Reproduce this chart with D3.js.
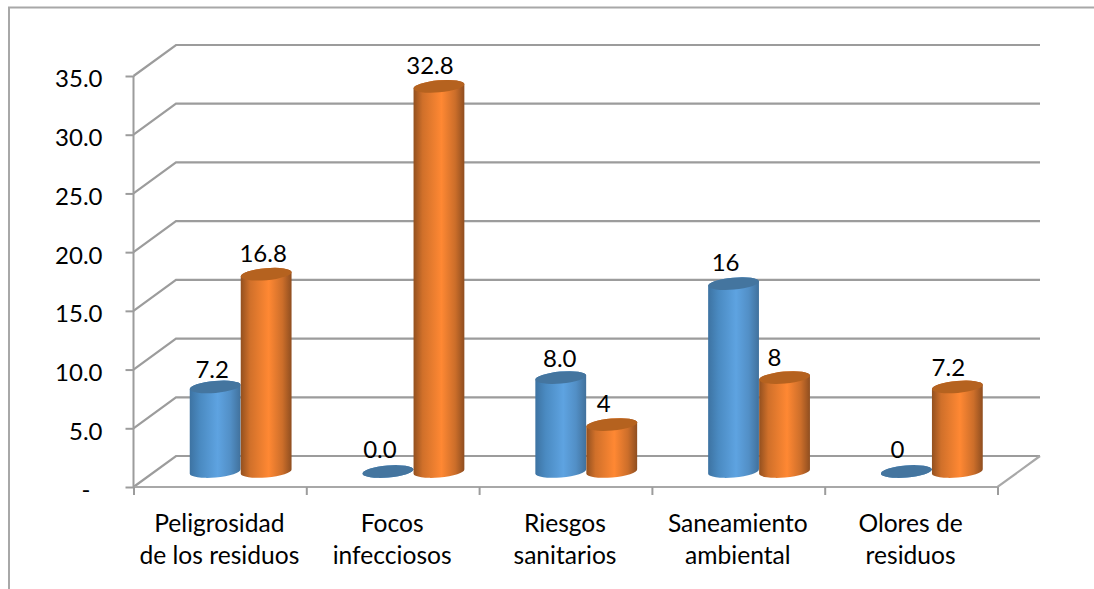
<!DOCTYPE html>
<html>
<head>
<meta charset="utf-8">
<script src="https://cdn.jsdelivr.net/npm/d3@7"></script>
<style>
  html, body { margin: 0; background: #fff; }
  svg { display: block; }
  text { font-family: Lato, "Open Sans", sans-serif; fill: #000; }
</style>
</head>
<body>
<svg id="chart" width="1094" height="589"></svg>
<script>
// Survey results by waste-related concern, two series of 3D-style cylinders
const categories = [
  ["Peligrosidad", "de los residuos"],
  ["Focos", "infecciosos"],
  ["Riesgos", "sanitarios"],
  ["Saneamiento", "ambiental"],
  ["Olores de", "residuos"]
];
const blueValues = [7.2, 0, 8, 16, 0];
const orangeValues = [16.8, 32.8, 4, 8, 7.2];
const blueLabels = ["7.2", "0.0", "8.0", "16", "0"];
const orangeLabels = ["16.8", "32.8", "4", "8", "7.2"];
const yTicks = [0, 5, 10, 15, 20, 25, 30, 35];

// Hand-placed offsets of the data labels
const blueNudge = [-3, -8, -1, -8, -9];
const orangeNudge = [-3, -9, -8, -10, -9];
const blueLift = [9, 14, 11, 13, 14];
const orangeLift = [12, 12, 13, 12, 11];

const svg = d3.select("#chart");
const labelSize = 24.6;
const numberSize = 24;
const gridColor = "#9c9c9c";

// Oblique projection: the back wall sits up and to the right of the front plane
const depth = { x: 42.5, y: -31 };
const front = { left: 133.5, right: 997.5, top: 76, bottom: 487 };

const y = d3.scaleLinear().domain([0, 35]).range([front.bottom, front.top]);
const x = d3.scaleBand().domain(d3.range(categories.length)).range([front.left, front.right]);
const edges = d3.scaleLinear().domain([0, categories.length]).range([front.left, front.right]);
const cylinderHeight = d3.scaleLinear().domain([0, 35]).range([0, front.bottom - front.top]);

// Chart frame: only the top and left edges fall inside the canvas
svg.append("path")
  .attr("d", "M9,589V7.5H1094")
  .attr("fill", "none")
  .attr("stroke", "#a8a8a8")
  .attr("stroke-width", 2);

// Cylinder shading
const defs = svg.append("defs");
function addGradient(id, stops) {
  const g = defs.append("linearGradient").attr("id", id)
    .attr("x1", 0).attr("x2", 1).attr("y1", 0).attr("y2", 0);
  stops.forEach(([o, c]) => g.append("stop").attr("offset", o).attr("stop-color", c));
}
addGradient("blueSide", [[0, "#3d73a2"], [0.2, "#4a8ac1"], [0.55, "#5ea3e1"], [0.8, "#528fc6"], [1, "#41719c"]]);
addGradient("orangeSide", [[0, "#93501f"], [0.18, "#d0702a"], [0.55, "#ff8833"], [0.82, "#cc6e2a"], [1, "#8f4e20"]]);

// Back wall gridlines with their receding segment on the left wall
const grid = svg.append("g");
yTicks.forEach(t => {
  const py = y(t);
  grid.append("path")
    .attr("d", d3.line()([
      [front.left, py],
      [front.left + depth.x, py + depth.y],
      [front.right + depth.x, py + depth.y]
    ]))
    .attr("fill", "none")
    .attr("stroke", gridColor)
    .attr("stroke-width", 2.2);
});

// Floor edges at the front and on the right
grid.append("path")
  .attr("d", d3.line()([
    [front.left, y(0)],
    [front.right, y(0)],
    [front.right + depth.x, y(0) + depth.y]
  ]))
  .attr("fill", "none")
  .attr("stroke", "#a8a8a8")
  .attr("stroke-width", 2.2);

// Value axis
const yAxis = svg.append("g")
  .attr("transform", `translate(${front.left},0)`)
  .call(d3.axisLeft(y).tickValues(yTicks).tickSize(8).tickPadding(23)
    .tickFormat(d => d === 0 ? "-" : d3.format(".1f")(d)));
yAxis.selectAll("path, line").attr("stroke", gridColor).attr("stroke-width", 2);
yAxis.select(".domain").attr("d", `M0,${front.top}V${front.bottom}`);
yAxis.selectAll("text")
  .attr("font-family", null)
  .style("font-size", numberSize + "px")
  .attr("dy", "0.37em")
  .attr("y", 2)
  .attr("dx", d => d === 0 ? -12 : 0);

// Category axis: ticks mark the boundaries between groups
const xAxis = svg.append("g")
  .attr("transform", `translate(0,${front.bottom})`)
  .call(d3.axisBottom(edges).ticks(categories.length).tickSize(8).tickFormat(""));
xAxis.select(".domain").remove();
xAxis.selectAll("line").attr("stroke", gridColor).attr("stroke-width", 2);

// Category labels on two lines
const labelGroup = svg.append("g")
  .selectAll("text")
  .data(categories)
  .join("text")
  .attr("text-anchor", "middle")
  .style("font-size", labelSize + "px");
labelGroup.each(function (lines, i) {
  const cx = x(i) + x.bandwidth() / 2 - 0.5;
  d3.select(this).selectAll("tspan")
    .data(lines)
    .join("tspan")
    .attr("x", cx)
    .attr("y", (d, k) => 532 + k * 32)
    .text(d => d);
});

// Cylinders stand in the middle of the floor depth
const radiusX = 25.5;
const radiusY = 6;
const tilt = 5;
const baseY = y(0) + depth.y / 2;
const cosT = Math.cos(tilt * Math.PI / 180);
const sinT = Math.sin(tilt * Math.PI / 180);

function sidePath(cx, topY, bottomY) {
  const dx = radiusX * cosT, dy = radiusX * sinT;
  const arc = `A${radiusX},${radiusY} ${-tilt} 0 0`;
  return `M${cx - dx},${topY + dy}L${cx - dx},${bottomY + dy}` +
         `${arc} ${cx + dx},${bottomY - dy}L${cx + dx},${topY - dy}` +
         `${arc} ${cx - dx},${topY + dy}Z`;
}

function drawSeries(values, labels, nudge, lift, offset, gradient, capColor) {
  const g = svg.append("g");
  values.forEach((v, i) => {
    const cx = x(i) + x.bandwidth() / 2 + depth.x / 2 + offset;
    const topY = baseY - cylinderHeight(v);
    g.append("path")
      .attr("d", sidePath(cx, topY, baseY))
      .attr("fill", `url(#${gradient})`);
    g.append("ellipse")
      .attr("rx", radiusX)
      .attr("ry", radiusY)
      .attr("transform", `translate(${cx},${topY}) rotate(${-tilt})`)
      .attr("fill", capColor);
  });
  return () => values.forEach((v, i) => {
    const cx = x(i) + x.bandwidth() / 2 + depth.x / 2 + offset;
    svg.append("text")
      .attr("x", cx + nudge[i])
      .attr("y", baseY - cylinderHeight(v) - lift[i])
      .attr("text-anchor", "middle")
      .style("font-size", numberSize + "px")
      .text(labels[i]);
  });
}

const blueText = drawSeries(blueValues, blueLabels, blueNudge, blueLift, -26, "blueSide", "#44759f");
const orangeText = drawSeries(orangeValues, orangeLabels, orangeNudge, orangeLift, 25, "orangeSide", "#b5621f");
blueText();
orangeText();
</script>
</body>
</html>
